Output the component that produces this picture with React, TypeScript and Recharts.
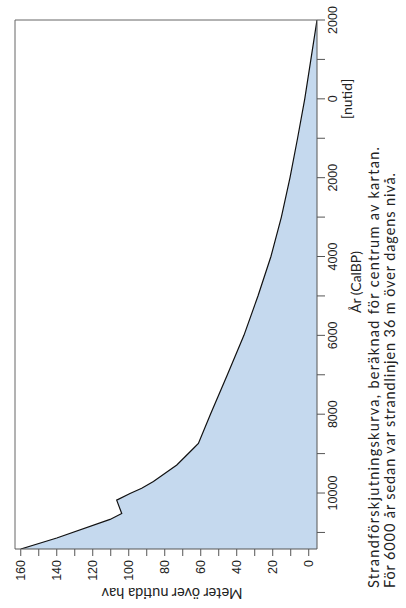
import { AreaChart, Area, XAxis, YAxis, ReferenceLine } from "recharts";

// Strandförskjutning (år CalBP, meter över nutida hav)
const years = [-2000, 0, 1000, 2000, 3000, 4000, 5000, 6000, 7000, 8000, 8740, 8870, 9080, 9290, 9500, 9710, 9880, 10010, 10180, 10520, 10670, 11140, 11420];
const meters = [-4.6, 2.2, 6.2, 10.4, 15.2, 21.0, 28.2, 36.0, 45.2, 54.6, 61.3, 64.1, 68.7, 73.3, 79.8, 86.3, 92.8, 99.3, 106.7, 103.9, 110.4, 140, 160];

const yearTicks = [-2000, -1000, 0, 1000, 2000, 3000, 4000, 5000, 6000, 7000, 8000, 9000, 10000, 11000];
const meterTicks = [0, 10, 20, 30, 40, 50, 60, 70, 80, 90, 100, 110, 120, 130, 140, 150, 160];

const titleLines = [
  "Strandförskjutningskurva, beräknad för centrum av kartan.",
  "För 6000 år sedan var strandlinjen 36 m över dagens nivå.",
];

const yearDomain = [-2000, 11420];
const meterDomain = [-4.6, 163.2];

const data = years.map((year, i) => ({ year, level: meters[i] }));

const tickFont = "'Liberation Sans', Arial, sans-serif";
const textFont = "Lato, 'Open Sans', sans-serif";

const YearTick = (props: any) => {
  const { x, y, payload } = props;
  const v = payload.value;
  if (v % 2000 !== 0) return null;
  return (
    <g>
      <text x={x} y={y} dy={10} textAnchor="middle" fontFamily={tickFont} fontSize={12.5} fill="#222">
        {Math.abs(v)}
      </text>
      {v === 0 && (
        <text x={x} y={y + 25} textAnchor="middle" fontFamily={textFont} fontSize={14} fill="#222">
          [nutid]
        </text>
      )}
    </g>
  );
};

const App = () => {
  return (
    <div style={{ position: "absolute", left: 0, top: 0, width: 406, height: 608, overflow: "hidden", background: "#fff" }}>
      {/* the chart is drawn lying down and turned a quarter turn counter-clockwise */}
      <div
        style={{
          position: "absolute",
          left: 0,
          top: 0,
          width: 608,
          height: 406,
          transformOrigin: "0 0",
          transform: "translateY(608px) rotate(-90deg)",
        }}
      >
        <AreaChart width={608} height={406} data={data} margin={{ top: 15, right: 20, left: 0, bottom: 0 }}>
          <XAxis
            type="number"
            dataKey="year"
            domain={yearDomain}
            reversed
            allowDataOverflow
            ticks={yearTicks}
            interval={0}
            height={89}
            tickSize={8}
            stroke="#555"
            tick={<YearTick />}
            label={{
              content: () => (
                <text x={326} y={361} textAnchor="middle" fontFamily={textFont} fontSize={14} fill="#222">
                  År (CalBP)
                </text>
              ),
            }}
          />
          <YAxis
            type="number"
            domain={meterDomain}
            allowDataOverflow
            ticks={meterTicks}
            interval={0}
            width={59}
            tickSize={7}
            tickMargin={4}
            stroke="#555"
            tick={{ fontFamily: tickFont, fontSize: 12.5, fill: "#222" }}
            tickFormatter={(v: number) => (v % 20 === 0 ? String(v) : "")}
            label={{
              content: () => (
                <text
                  x={20}
                  y={172}
                  textAnchor="middle"
                  transform="rotate(-90, 20, 172)"
                  fontFamily={textFont}
                  fontSize={14.5}
                  fill="#222"
                >
                  Meter över nutida hav
                </text>
              ),
            }}
          />
          <ReferenceLine y={meterDomain[1]} stroke="#666" strokeWidth={1} />
          <ReferenceLine x={yearDomain[0]} stroke="#666" strokeWidth={1} />
          <Area
            type="linear"
            dataKey="level"
            baseValue="dataMin"
            stroke="#111"
            strokeWidth={1.2}
            fill="#c5d9ee"
            fillOpacity={1}
            dot={false}
            activeDot={false}
            isAnimationActive={false}
          />
        </AreaChart>
        <svg width={608} height={406} style={{ position: "absolute", left: 0, top: 0, pointerEvents: "none" }}>
          {titleLines.map((line, i) => (
            <text
              key={i}
              x={20}
              y={379 + i * 16}
              fontFamily={textFont}
              fontSize={14.5}
              fill="#222"
              textLength={i === 0 ? 441 : 415}
              lengthAdjust="spacing"
            >
              {line}
            </text>
          ))}
        </svg>
      </div>
    </div>
  );
};

export default App;
